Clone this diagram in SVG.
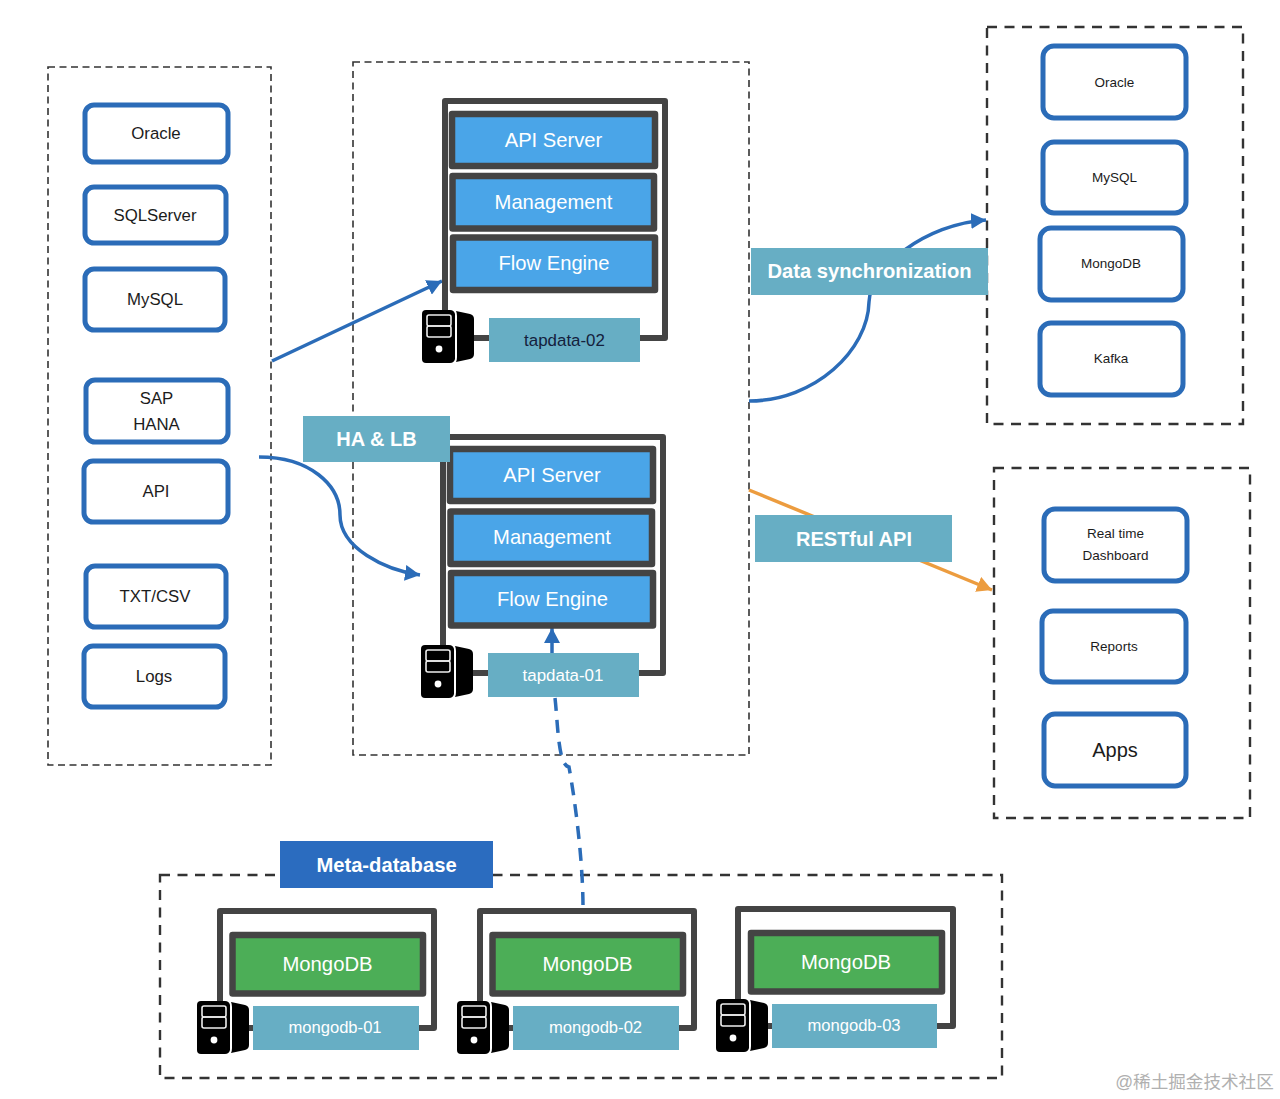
<svg xmlns="http://www.w3.org/2000/svg" xmlns:xlink="http://www.w3.org/1999/xlink" width="1280" height="1099" viewBox="0 0 1280 1099">
<style>
text{font-family:"Liberation Sans",Arial,sans-serif;text-anchor:middle}
.zone{fill:none;stroke:#333;stroke-width:1.6;stroke-dasharray:7 4.5}
.zone2{fill:none;stroke:#333;stroke-width:2.4;stroke-dasharray:10 7.5}
.src{fill:#fff;stroke:#2b6cb8;stroke-width:5}
.t{fill:#1c1c1c;transform:translateY(-.8px)}
.frame{fill:none;stroke:#444;stroke-width:6;stroke-linejoin:round}
.slab{fill:#4aa5e8;stroke:#444;stroke-width:6.5;stroke-linejoin:round}
.green{fill:#4cae57;stroke:#444;stroke-width:6.5;stroke-linejoin:round}
.lab{fill:#67aec4}
.w{fill:#fff;transform:translateY(-.8px)}
.b{fill:#fff;font-weight:bold}
.c{fill:none;stroke:#2b6cb8;stroke-width:3.5}
</style>
<defs>
<marker id="ab" markerUnits="userSpaceOnUse" markerWidth="17" markerHeight="16" refX="15" refY="8" orient="auto"><path d="M0 0L15 8L0 16Z" fill="#2b6cb8"/></marker>
<marker id="ao" markerUnits="userSpaceOnUse" markerWidth="17" markerHeight="16" refX="15" refY="8" orient="auto"><path d="M0 0L15 8L0 16Z" fill="#ec9c3f"/></marker>
<g id="srv">
<path d="M4 0H28Q32 0 33 4V49Q32 53 28 53H4Q0 53 0 49V4Q0 0 4 0Z" fill="#000"/>
<path d="M34 1L48 4Q52 5 52 9V44Q52 48 48 49L34 52Q35 50 35 47V6Q35 3 34 1Z" fill="#000"/>
<rect x="5" y="5" width="24" height="11" rx="2" fill="none" stroke="#eee" stroke-width="1.6"/>
<rect x="5" y="16" width="24" height="11" rx="2" fill="none" stroke="#eee" stroke-width="1.6"/>
<circle cx="17" cy="39" r="3.4" fill="#fff"/>
</g>
</defs>
<rect width="1280" height="1099" fill="#fff"/>
<g id="zones">
<rect class="zone" x="48" y="67" width="223" height="698"/>
<rect class="zone" x="353" y="62" width="396" height="693"/>
<rect class="zone2" x="987" y="27" width="256" height="397"/>
<rect class="zone2" x="994" y="468" width="256" height="350"/>
<rect class="zone2" x="160" y="875" width="842" height="203"/>
</g>
<g id="connectors">
<path class="c" d="M272 361L442 281" marker-end="url(#ab)"/>
<path class="c" d="M259 457C310 457 340 485 340 515C340 548 385 570 420 575" marker-end="url(#ab)"/>
<path class="c" d="M749 401C815 401 868 350 869 302C870 268 925 224 986 220" marker-end="url(#ab)"/>
<path d="M749 490L992 590" fill="none" stroke="#ec9c3f" stroke-width="3.5" marker-end="url(#ao)"/>
<path class="c" d="M552 653V628" marker-end="url(#ab)"/>
<path class="c" stroke-dasharray="13 9" d="M555 698C558 725 558 765 569 767C575 800 583 860 583 908"/>
</g>
<g id="src-oracle"><rect class="src" x="85" y="105" width="143" height="57" rx="9"/><text class="t" x="156" y="139.500" font-size="16.800">Oracle</text></g>
<g id="src-sqlserver"><rect class="src" x="85" y="187" width="141" height="56" rx="9"/><text class="t" x="155" y="221.500" font-size="16.800">SQLServer</text></g>
<g id="src-mysql"><rect class="src" x="85" y="269" width="140" height="61" rx="9"/><text class="t" x="155" y="305.500" font-size="16.800">MySQL</text></g>
<g id="src-sap"><rect class="src" x="86" y="380" width="142" height="62" rx="9"/><text class="t" x="156.500" y="404.500" font-size="16.800">SAP</text><text class="t" x="156.500" y="430.500" font-size="16.800">HANA</text></g>
<g id="src-api"><rect class="src" x="84" y="461" width="144" height="61" rx="9"/><text class="t" x="156" y="497.500" font-size="16.800">API</text></g>
<g id="src-txt"><rect class="src" x="86" y="566" width="140" height="61" rx="9"/><text class="t" x="155" y="603" font-size="16.800">TXT/CSV</text></g>
<g id="src-logs"><rect class="src" x="84" y="646" width="141" height="61" rx="9"/><text class="t" x="154" y="683" font-size="16.800">Logs</text></g>
<g id="tapdata-02">
<path class="frame" d="M445 312V101H665V338H636M492 338H470"/>
<rect class="slab" x="452" y="114" width="203" height="52"/><text class="w" x="553.500" y="147.500" font-size="20.200">API Server</text>
<rect class="slab" x="452.500" y="176" width="201.500" height="52.500"/><text class="w" x="553.500" y="209.500" font-size="20.200">Management</text>
<rect class="slab" x="453" y="237.500" width="202" height="52.500"/><text class="w" x="554" y="271" font-size="20.200">Flow Engine</text>
<use xlink:href="#srv" href="#srv" x="422" y="310"/>
<rect class="lab" x="489" y="318" width="151" height="44"/><text x="564.500" y="345.700" font-size="16.900" fill="#14213d">tapdata-02</text>
</g>
<g id="tapdata-01">
<path class="frame" d="M443 647V437H663V673H634M490 673H468"/>
<rect class="slab" x="450" y="449" width="203" height="52"/><text class="w" x="552" y="482.500" font-size="20.200">API Server</text>
<rect class="slab" x="450.500" y="511.500" width="201.500" height="52.500"/><text class="w" x="552" y="544.500" font-size="20.200">Management</text>
<rect class="slab" x="451" y="573" width="202" height="52.500"/><text class="w" x="552.500" y="606.500" font-size="20.200">Flow Engine</text>
<use xlink:href="#srv" href="#srv" x="421" y="645"/>
<rect class="lab" x="488" y="653" width="151" height="44"/><text class="w" x="563" y="681.500" font-size="16.900">tapdata-01</text>
</g>
<g id="label-ha"><rect class="lab" x="303" y="416" width="147" height="46"/><text class="b" x="376.500" y="446" font-size="20">HA &amp; LB</text></g>
<g id="label-sync"><rect class="lab" x="751" y="248" width="237" height="47"/><text class="b" x="869.500" y="278" font-size="20.200">Data synchronization</text></g>
<g id="label-rest"><rect class="lab" x="755" y="515" width="197" height="47"/><text class="b" x="854" y="546" font-size="20">RESTful API</text></g>
<g id="label-meta"><rect x="280" y="841" width="213" height="47" fill="#2b6cbf"/><text class="b" x="386.500" y="872" font-size="20.200">Meta-database</text></g>
<g id="t-oracle"><rect class="src" x="1043" y="46" width="143" height="72" rx="11"/><text class="t" x="1114.500" y="88" font-size="13.500">Oracle</text></g>
<g id="t-mysql"><rect class="src" x="1043" y="142" width="143" height="71" rx="11"/><text class="t" x="1114.500" y="183" font-size="13.500">MySQL</text></g>
<g id="t-mongodb"><rect class="src" x="1040" y="228" width="143" height="72" rx="11"/><text class="t" x="1111" y="269" font-size="13.500">MongoDB</text></g>
<g id="t-kafka"><rect class="src" x="1040" y="323" width="143" height="72" rx="11"/><text class="t" x="1111" y="364" font-size="13.500">Kafka</text></g>
<g id="a-dashboard"><rect class="src" x="1044" y="509" width="143" height="72" rx="11"/><text class="t" x="1115.500" y="539" font-size="13.500">Real time</text><text class="t" x="1115.500" y="561" font-size="13.500">Dashboard</text></g>
<g id="a-reports"><rect class="src" x="1042" y="611" width="144" height="71" rx="11"/><text class="t" x="1114" y="652" font-size="13.500">Reports</text></g>
<g id="a-apps"><rect class="src" x="1044" y="714" width="142" height="72" rx="11"/><text class="t" x="1115" y="757.500" font-size="20">Apps</text></g>
<g id="mongodb-01">
<path class="frame" d="M220 1004V911H434V1028H416M256 1028H245"/>
<rect class="green" x="232.500" y="935" width="190.500" height="58.500"/><text class="w" x="327.500" y="971.500" font-size="20.300">MongoDB</text>
<use xlink:href="#srv" href="#srv" x="197" y="1001"/>
<rect class="lab" x="253" y="1006" width="166" height="44"/><text class="w" x="335" y="1034" font-size="16.600">mongodb-01</text>
</g>
<g id="mongodb-02">
<path class="frame" d="M480 1004V911H694V1028H676M516 1028H505"/>
<rect class="green" x="492.500" y="935" width="190.500" height="58.500"/><text class="w" x="587.500" y="971.500" font-size="20.300">MongoDB</text>
<use xlink:href="#srv" href="#srv" x="457" y="1001"/>
<rect class="lab" x="513" y="1006" width="166" height="44"/><text class="w" x="595.500" y="1034" font-size="16.600">mongodb-02</text>
</g>
<g id="mongodb-03">
<path class="frame" d="M738 1002V909H953V1026H935M775 1026H764"/>
<rect class="green" x="751" y="933" width="191" height="58.500"/><text class="w" x="846" y="969.500" font-size="20.300">MongoDB</text>
<use xlink:href="#srv" href="#srv" x="716" y="999"/>
<rect class="lab" x="772" y="1004" width="165" height="44"/><text class="w" x="854" y="1032" font-size="16.600">mongodb-03</text>
</g>
<text x="1194.500" y="1088" font-size="17.600" fill="#b0b0b0" style="font-family:'Liberation Sans','Noto Sans CJK SC',sans-serif">@稀土掘金技术社区</text>
</svg>
